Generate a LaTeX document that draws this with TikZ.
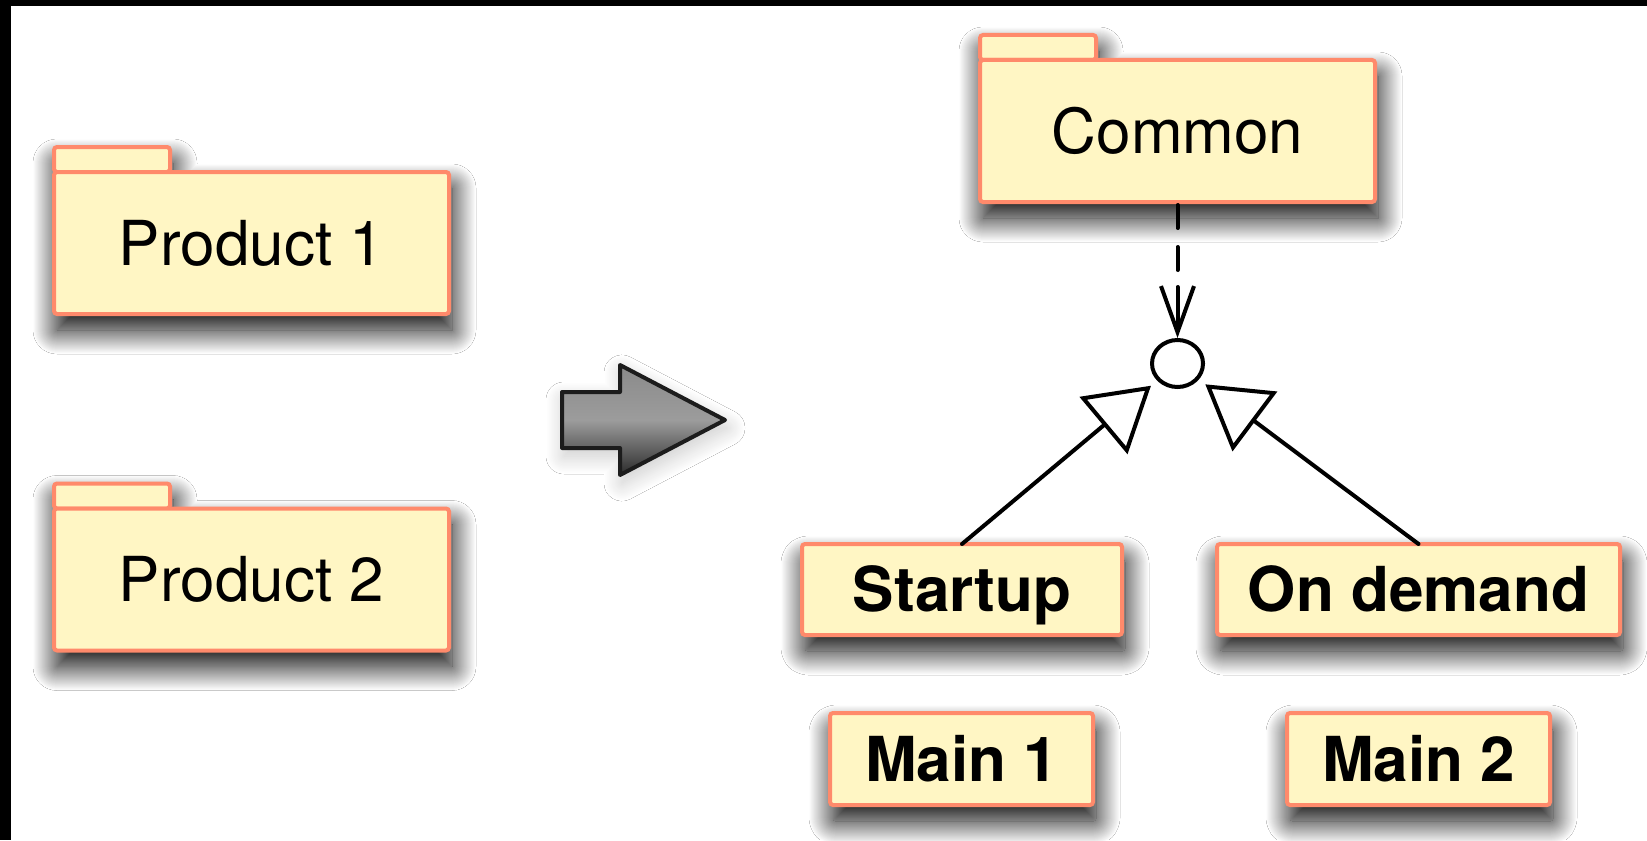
\documentclass[tikz,border=0pt]{standalone}
\usepackage{fontspec}
\setmainfont{TeX Gyre Heros}
\usetikzlibrary{arrows.meta,shapes.geometric,shadows.blur}
\definecolor{pkgfill}{HTML}{FFF6C4}
\definecolor{pkgline}{HTML}{FF8A6B}
\definecolor{arrowtop}{HTML}{8A8A8A}
\definecolor{arrowmid}{HTML}{9C9C9C}
\definecolor{arrowbot}{HTML}{2C2C2C}
\definecolor{arrowline}{HTML}{1C1C1C}
\tikzset{
  soft shadow/.style={blur shadow={shadow xshift=1.5pt, shadow yshift=-8pt,
      shadow blur radius=12pt, shadow blur steps=48, shadow opacity=100}},
  box/.style={draw=pkgline, fill=pkgfill, line width=2pt, rounded corners=1.5pt,
      outer sep=0pt, inner sep=0pt, text height=22pt, text depth=0pt,
      font=\fontsize{31}{36}\selectfont},
  pkg/.style={box, minimum width=197.5pt, minimum height=71pt},
  pkgtab/.style={draw=pkgline, fill=pkgfill, line width=2pt, rounded corners=1.5pt},
  comp/.style={box, soft shadow, font=\fontsize{31}{36}\selectfont\bfseries,
      minimum height=45.5pt},
  link/.style={line width=2pt, black, line cap=round},
  iface/.style={ellipse, draw, line width=2pt, fill=white, inner sep=0pt,
      minimum width=25.5pt, minimum height=23.5pt},
  realize/.style={link, line join=miter,
      -{Triangle[open, length=31pt, width=37pt]}, shorten >=4pt},
}
% folder: shared shadow of tab and body, then the tab, then the body node
% #1 name, #2 x, #3 y, #4 label
\newcommand\folder[4]{%
  \path[soft shadow] (#2,#3) ++(-98.75pt,35.5pt) -- ++(0,12.5pt) -- ++(58pt,0)
    -- ++(0,-12.5pt) -- ++(139.5pt,0) -- ++(0,-71pt) -- ++(-197.5pt,0) -- cycle;
  \draw[pkgtab] (#2,#3) ++(-98.75pt,35.5pt) rectangle ++(58pt,12.5pt);
  \node[pkg] (#1) at (#2,#3) {#4};}
\begin{document}
\begin{tikzpicture}[x=0.5pt, y=-0.5pt]
  \useasboundingbox (0,0) rectangle (1647,840);
  \fill[white] (0,0) rectangle (1647,840);
  \fill[black] (0,0) rectangle (1647,6);
  \fill[black] (0,0) rectangle (11,840);

  % packages before the change
  \folder{p1}{251.5}{243}{Product 1}
  \folder{p2}{251.5}{579.5}{Product 2}

  % transition arrow
  \draw[line width=2pt, draw=arrowline, line join=round,
        top color=arrowtop, bottom color=arrowbot, middle color=arrowmid,
        blur shadow={shadow xshift=1pt, shadow yshift=-4pt,
          shadow blur radius=9pt, shadow blur steps=30, shadow opacity=22}]
    (562,392) -- (620,392) -- (620,365) -- (725,420) -- (620,475)
    -- (620,448) -- (562,448) -- cycle;

  % packages after the change
  \folder{common}{1177.5}{131}{Common}
  \node[iface] (circ) at (1177.5,363.5) {};

  \node[comp, minimum width=160pt] (startup) at (962,589.5) {Startup};
  \node[comp, minimum width=201.5pt] (ondemand) at (1418.5,589.5) {On demand};
  \node[comp, minimum width=131.5pt, minimum height=46pt] (main1) at (961.5,759) {Main 1};
  \node[comp, minimum width=131.5pt, minimum height=46pt] (main2) at (1418.5,759) {Main 2};

  % dependency of the interface on Common
  \coordinate (dstop) at (1177.5,287);
  \draw[link, dash pattern=on 11.5pt off 9.5pt, shorten <=1.5pt] (common.south) -- (dstop);
  \draw[link, -{Straight Barb[length=23pt, width=16.5pt]}] (dstop) -- (circ.north);

  % realizations
  \draw[realize] (startup.north) -- (circ);
  \draw[realize] (ondemand.north) -- (circ);
\end{tikzpicture}
\end{document}
